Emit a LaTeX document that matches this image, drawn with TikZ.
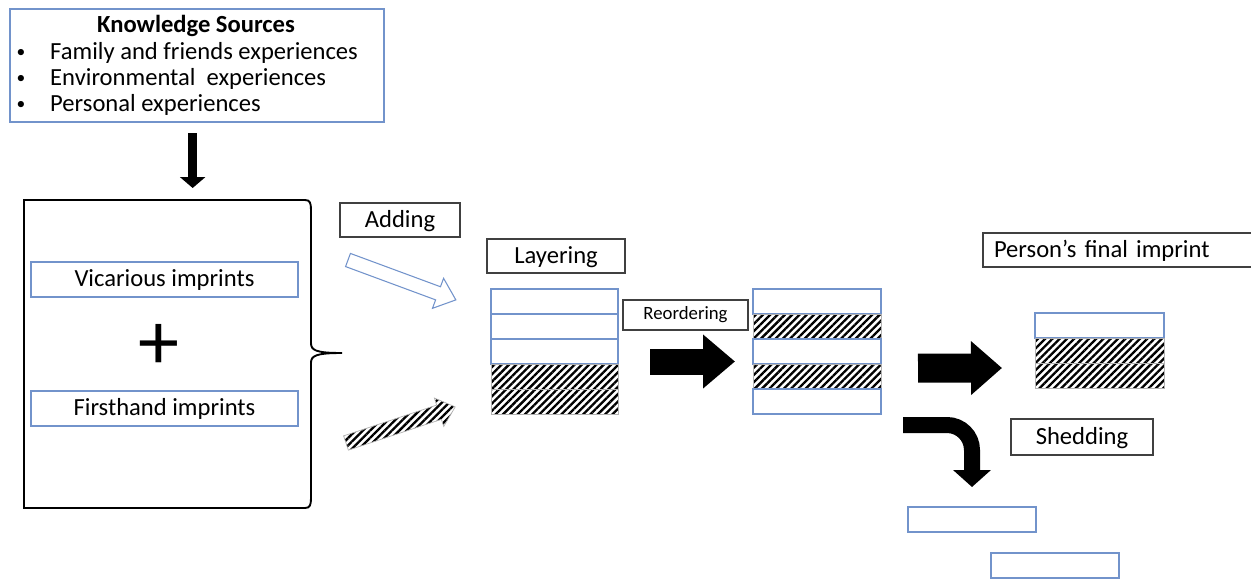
\documentclass[tikz,border=0pt]{standalone}
\usepackage{fontspec}
\setmainfont{Carlito}
\usetikzlibrary{arrows.meta,patterns.meta}
\definecolor{boxblue}{RGB}{114,147,203}
\tikzset{
  bluebox/.style={draw=boxblue,line width=0.9pt,fill=white,inner sep=0pt,outer sep=0pt},
  txtbox/.style={draw=black!75,line width=1pt,fill=white,inner sep=0pt,outer sep=0pt,minimum height=1.02cm},
  lowtext/.style={text height=0.58cm,text depth=0.15cm},
  wrow/.style={bluebox,minimum height=0.75cm},
  hrow/.style={draw=gray!60,line width=0.6pt,inner sep=0pt,outer sep=0pt,minimum height=0.75cm,
    pattern={Lines[angle=45,distance=4.4pt,line width=2pt]}},
  fat/.style={line width=#1,draw=black},
}
\begin{document}
\begin{tikzpicture}[x=0.03cm,y=-0.03cm,every node/.style={font=\fontsize{21}{25}\selectfont}]
\useasboundingbox (0,0) rectangle (1251,582);
% knowledge sources
\node[bluebox,minimum width=11.22cm,minimum height=3.39cm] (ks) at (197,65.5) {};
\node[font=\fontsize{21}{25}\selectfont\bfseries] (kstitle) at (196,26) {Knowledge Sources};
\foreach \t [count=\i] in {Family and friends experiences,Environmental~ experiences,Personal experiences} {
  \node[font=\fontsize{15}{18}\selectfont] (kb\i) at (21,27+26*\i) {\textbullet};
  \node[anchor=west,inner sep=0pt] (kt\i) at (50,27+26*\i) {\t};
}
% brace box
\draw[line width=1.6pt] (305,200) -- (24,200) -- (24,508) -- (305,508)
  .. controls (310,508) and (311,505) .. (311,498) -- (311,363)
  .. controls (311,356) and (315,353) .. (342,353)
  .. controls (315,353) and (311,350) .. (311,343) -- (311,210)
  .. controls (311,203) and (310,200) .. (305,200);
\coordinate (brtop) at (197,200);
\coordinate (brtip) at (342,353);
\draw[fat=0.27cm,-{Triangle[width=0.75cm,length=0.33cm]}] ([xshift=-0.13cm,yshift=-0.33cm]ks.south) -- ([xshift=-0.13cm,yshift=0.36cm]brtop);
\node[bluebox,lowtext,minimum width=8.01cm,minimum height=1.05cm] (vic) at (164.5,279.5) {Vicarious imprints};
\node[font=\fontsize{70}{70}\selectfont,inner sep=0pt] (plus) at (159,347) {+};
\node[bluebox,lowtext,minimum width=8.01cm,minimum height=1.05cm] (first) at (164.5,408.5) {Firsthand imprints};
% adding
\node[txtbox,lowtext,minimum width=3.6cm] (add) at (400,220) {Adding};
\begin{scope}[shift={(348,260)},rotate=-20.3]
  \draw[boxblue,line width=0.9pt,fill=white] (0,-7) -- (96,-7) -- (96,-16) -- (115,0) -- (96,16) -- (96,7) -- (0,7) -- cycle;
\end{scope}
\begin{scope}[shift={(346,443)},rotate=18.3]
  \draw[gray!60,line width=0.6pt,pattern={Lines[angle=45,distance=4.4pt,line width=2pt]}]
    (0,-7.5) -- (98,-7.5) -- (98,-15) -- (115,0) -- (98,15) -- (98,7.5) -- (0,7.5) -- cycle;
\end{scope}
% layering
\node[txtbox,lowtext,minimum width=4.14cm] (layer) at (556,256) {Layering};
\foreach \s [count=\i from 0] in {wrow,wrow,wrow,hrow,hrow}
  \node[\s,minimum width=3.81cm] (sa\i) at (554.5,301.5+25*\i) {};
% reordering
\node[txtbox,minimum width=3.75cm,minimum height=0.9cm,font=\fontsize{16}{19}\selectfont] (reord) at (685.5,315) {Reordering};
\foreach \s [count=\i from 0] in {wrow,hrow,wrow,hrow,wrow}
  \node[\s,minimum width=3.84cm] (sb\i) at (817,301.5+25*\i) {};
\draw[fat=0.78cm,-{Triangle[width=1.56cm,length=0.96cm]}] ([xshift=0.96cm,yshift=-0.3cm]sa2.east) -- ([xshift=-0.54cm,yshift=-0.3cm]sb2.west);
% final imprint
\node[txtbox,lowtext,anchor=west,text width=7.9cm,inner xsep=0.33cm,align=left] (final) at (983,250) {Person’s final imprint};
\foreach \s [count=\i from 0] in {wrow,hrow,hrow}
  \node[\s,minimum width=3.87cm] (fc\i) at (1099.5,325.5+25*\i) {};
\draw[fat=0.87cm,-{Triangle[width=1.56cm,length=0.93cm]}] ([xshift=1.11cm,yshift=-0.5cm]sb2.east) -- ([xshift=-0.99cm,yshift=-0.525cm]fc1.west);
% shedding
\node[txtbox,lowtext,minimum width=4.26cm,minimum height=1.08cm] (shed) at (1082,437) {Shedding};
\node[bluebox,minimum width=3.84cm,minimum height=0.75cm] (sh1) at (972,519.5) {};
\node[bluebox,minimum width=3.84cm,minimum height=0.75cm] (sh2) at (1055,565.5) {};
\draw[fat=0.48cm,rounded corners=0.75cm,-{Triangle[width=1.11cm,length=0.51cm]}] ([xshift=0.66cm,yshift=-0.705cm]sb4.east) -| ([yshift=0.6cm]sh1.north);
\end{tikzpicture}
\end{document}
